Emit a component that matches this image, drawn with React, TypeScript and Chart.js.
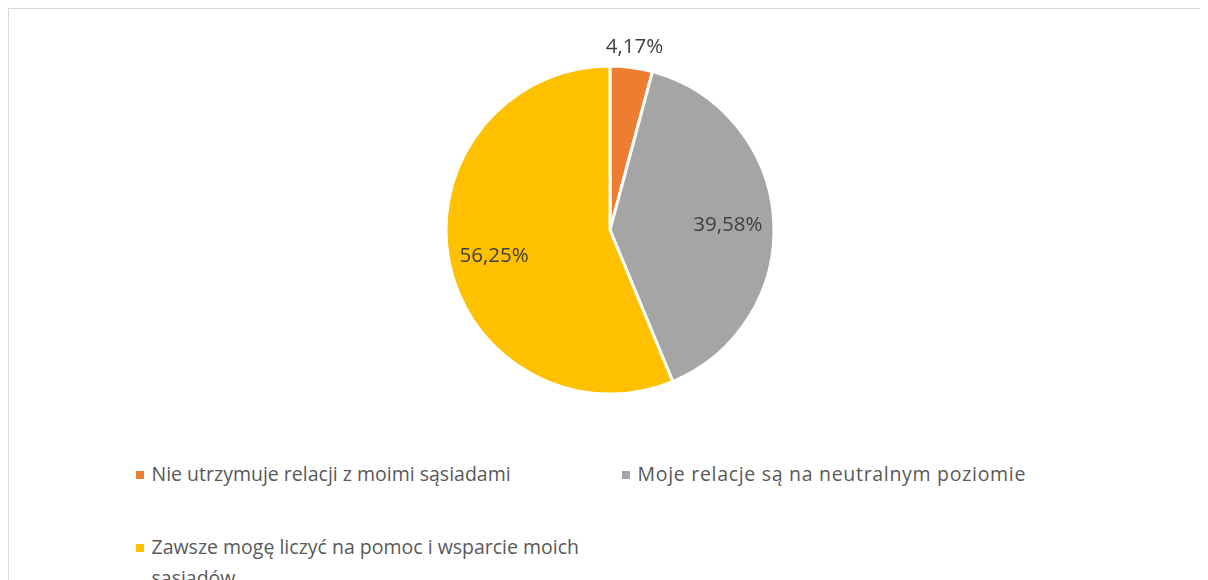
import React, { useEffect, useRef } from "react";
import { Chart, registerables } from "chart.js";

Chart.register(...registerables);

const categories = [
  "Nie utrzymuje relacji z moimi sąsiadami",
  "Moje relacje są na neutralnym poziomie",
  "Zawsze mogę liczyć na pomoc i wsparcie moich sąsiadów",
];
const values = [4.17, 39.58, 56.25];
const valueLabels = ["4,17%", "39,58%", "56,25%"];
const colors = ["#ED7D31", "#A5A5A5", "#FFC000"];
const FONT = "'Open Sans', 'Noto Sans', sans-serif";

const labelPlugin = {
  id: "sliceLabels",
  afterDatasetsDraw(chart: any) {
    const ctx = chart.ctx;
    const meta = chart.getDatasetMeta(0);
    ctx.save();
    ctx.font = `20.5px ${FONT}`;
    ctx.fillStyle = "#404040";
    ctx.textAlign = "center";
    ctx.textBaseline = "middle";
    meta.data.forEach((arc: any, i: number) => {
      const { x, y, startAngle, endAngle, outerRadius } = arc.getProps(
        ["x", "y", "startAngle", "endAngle", "outerRadius"],
        true
      );
      const mid = (startAngle + endAngle) / 2;
      const span = endAngle - startAngle;
      const r = span < 0.4 ? outerRadius + 23 : outerRadius * 0.72;
      ctx.fillText(valueLabels[i], x + Math.cos(mid) * r, y + Math.sin(mid) * r + 3);
    });
    ctx.restore();
  },
};

export default function App() {
  const ref = useRef<HTMLCanvasElement>(null);
  useEffect(() => {
    document.body.style.margin = "8px 8px 0 8px";
    document.body.style.overflow = "hidden";
    document.documentElement.style.overflow = "hidden";
    const chart = new Chart(ref.current!, {
      type: "pie",
      data: {
        labels: categories,
        datasets: [
          {
            data: values,
            backgroundColor: colors,
            borderColor: "#ffffff",
            borderWidth: 3,
          },
        ],
      },
      options: {
        responsive: false,
        animation: false,
        radius: 164,
        layout: { padding: { left: 4, top: 0, right: 0, bottom: 0 } },
        plugins: { legend: { display: false }, tooltip: { enabled: false } },
      } as any,
      plugins: [labelPlugin],
    });
    return () => chart.destroy();
  }, []);

  const legendItem = (
    i: number,
    left: number,
    top: number,
    lines: string[],
    letterSpacing = 0
  ) => (
    <div
      key={i}
      style={{
        position: "absolute",
        left,
        top,
        fontFamily: FONT,
        fontSize: 19.5,
        lineHeight: "31px",
        color: "#595959",
        whiteSpace: "nowrap",
        letterSpacing,
      }}
    >
      <span
        style={{
          position: "absolute",
          left: 0,
          top: 13,
          width: 8,
          height: 8,
          background: colors[i],
        }}
      />
      <div style={{ marginLeft: 16 }}>
        {lines.map((l, k) => (
          <div key={k}>{l}</div>
        ))}
      </div>
    </div>
  );

  return (
    <div
      style={{
        position: "relative",
        width: 1200,
        height: 572,
        overflow: "hidden",
        boxSizing: "border-box",
        borderTop: "1.5px solid #d9d9d9",
        borderLeft: "1.5px solid #d9d9d9",
      }}
    >
      <canvas
        ref={ref}
        width={1200}
        height={444}
        style={{ position: "absolute", left: -1.5, top: -1.5 }}
      />
      {legendItem(0, 126.5, 448.5, [categories[0]])}
      {legendItem(1, 612.5, 448.5, [categories[1]], 0.7)}
      {legendItem(2, 126.5, 521.5, ["Zawsze mogę liczyć na pomoc i wsparcie moich", "sąsiadów"])}
    </div>
  );
}
